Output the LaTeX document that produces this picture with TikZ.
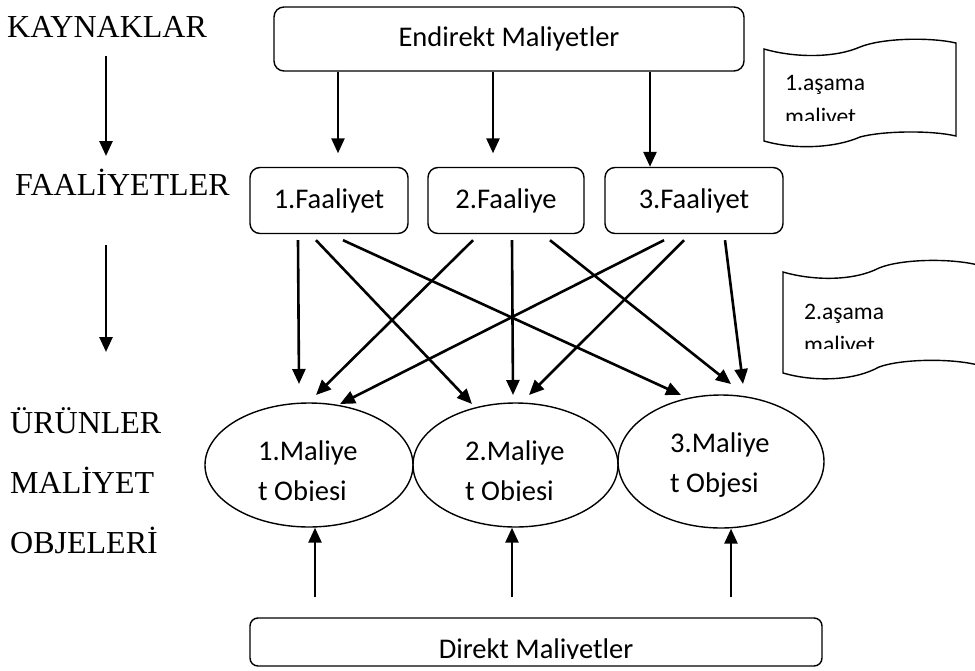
\documentclass[tikz,border=0pt]{standalone}
\usepackage{fontspec}
\usetikzlibrary{arrows.meta,shapes.geometric}
\newfontfamily\calibrifont{Carlito}
\newfontfamily\timesfont{Liberation Serif}
\begin{document}
\begin{tikzpicture}[x=1pt,y=-1pt,
  box/.style={draw, line width=1.4pt, rounded corners=10pt, inner sep=0pt,
    font=\calibrifont\fontsize{28.5}{34}\selectfont},
  oval/.style={draw, ellipse, line width=1.4pt, inner sep=0pt},
  lbl/.style={anchor=base west, inner sep=0pt, font=\timesfont\fontsize{32}{38}\selectfont},
  txt/.style={anchor=base west, inner sep=0pt, font=\calibrifont\fontsize{28.5}{34}\selectfont},
  tapetxt/.style={anchor=base west, inner sep=0pt, font=\calibrifont\fontsize{23.6}{28}\selectfont},
  tape/.style={draw, line width=1.4pt, fill=white},
  arr/.style={line width=2.6pt, -{Triangle[length=15pt,width=13pt]}}
]
\fill[white] (0,0) rectangle (975,670);
\useasboundingbox (0,0) rectangle (975,670);

% level labels on the left
\node[lbl] (kay) at (7,37) {KAYNAKLAR};
\node[lbl] (faa) at (15,195) {FAALİYETLER};
\node[lbl] (uru) at (10,433) {ÜRÜNLER};
\node[lbl] (mal) at (10,493) {MALİYET};
\node[lbl] (obj) at (10,553) {OBJELERİ};
\coordinate (kayS) at (106,56);
\coordinate (faaN) at (106,156);
\coordinate (faaS) at (106,245);
\coordinate (uruN) at (106,352);
\draw[arr] (kayS) -- (faaN);
\draw[arr] (faaS) -- (uruN);

% boxes
\node[box, minimum width=470pt, minimum height=64pt] (endirekt) at (509,39) {Endirekt Maliyetler};
\node[box, minimum width=158pt, minimum height=66pt] (f1) at (329,200.5) {1.Faaliyet};
\node[box, minimum width=156pt, minimum height=66pt] (f2) at (506,200.5) {2.Faaliye};
\node[box, minimum width=178pt, minimum height=66pt] (f3) at (694,200.5) {3.Faaliyet};
\node[box, minimum width=572pt, minimum height=48pt, rounded corners=8pt] (direkt) at (536,642) {};

% cost objects
\node[oval, minimum width=208pt, minimum height=124pt] (m1) at (309,465) {};
\node[oval, minimum width=205pt, minimum height=124pt] (m2) at (515.5,465) {};
\node[oval, minimum width=206pt, minimum height=133pt] (m3) at (721,461.5) {};

\node[txt] (m1a) at (258,460) {1.Maliye};
\node[txt] (m2a) at (465,460) {2.Maliye};
\node[txt] (m3a) at (670,452) {3.Maliye};
\node[txt] (m3b) at (670,492) {t Objesi};
\begin{scope}
  \clip (250,470) rectangle (620,500.2);
  \node[txt] (m1b) at (258,500) {t Objesi};
  \node[txt] (m2b) at (465,500) {t Objesi};
\end{scope}
\begin{scope}
  \clip (260,625) rectangle (820,658.2);
  \node[anchor=base, inner sep=0pt, font=\calibrifont\fontsize{28.5}{34}\selectfont] (dtxt) at (536,658) {Direkt Maliyetler};
\end{scope}

% stage notes
\draw[tape] (764,49) .. controls (795,58) and (835,58) .. (860,47)
  .. controls (882,38) and (930,37) .. (956,43) -- (956,136)
  .. controls (930,130) and (882,131) .. (860,137)
  .. controls (835,148) and (795,150) .. (764,141) -- cycle;
\node[tapetxt] (t1a) at (785,90) {1.aşama};
\begin{scope}
  \clip (770,95) rectangle (950,120);
  \node[tapetxt] (t1b) at (785,124) {maliyet};
\end{scope}
\draw[tape] (783,272) .. controls (814,281) and (854,281) .. (879,268)
  .. controls (901,259) and (950,258) .. (978,265) -- (978,365)
  .. controls (950,358) and (901,359) .. (879,367)
  .. controls (854,381) and (814,382) .. (783,373) -- cycle;
\node[tapetxt] (t2a) at (804,319) {2.aşama};
\begin{scope}
  \clip (790,325) rectangle (970,348);
  \node[tapetxt] (t2b) at (804,352) {maliyet};
\end{scope}

% indirect costs to activities
\draw[arr] ([xshift=-171pt]endirekt.south) -- ([xshift=9pt,yshift=13.5pt]f1.north);
\draw[arr] ([xshift=-16pt]endirekt.south) -- ([xshift=-13pt,yshift=13.5pt]f2.north);
\draw[arr] ([xshift=141pt]endirekt.south) -- ([xshift=-44pt]f3.north);

% activities to cost objects
\draw[arr] ([xshift=-31pt,yshift=-6pt]f1.south) -- ([xshift=-10pt,yshift=81pt]m1.center);
\draw[arr] ([xshift=-13pt,yshift=-6pt]f1.south) -- ([xshift=-43.5pt,yshift=61pt]m2.center);
\draw[arr] ([xshift=14pt,yshift=-6pt]f1.south) -- ([xshift=-40pt,yshift=66.5pt]m3.center);
\draw[arr] ([xshift=-33pt,yshift=-6pt]f2.south) -- ([xshift=7pt,yshift=70pt]m1.center);
\draw[arr] ([xshift=6pt,yshift=-6pt]f2.south) -- ([xshift=-2.5pt,yshift=70pt]m2.center);
\draw[arr] ([xshift=44pt,yshift=-6pt]f2.south) -- ([xshift=10pt,yshift=77.5pt]m3.center);
\draw[arr] ([xshift=-30pt,yshift=-6pt]f3.south) -- ([xshift=31pt,yshift=61pt]m1.center);
\draw[arr] ([xshift=-10pt,yshift=-6pt]f3.south) -- ([xshift=13.5pt,yshift=70pt]m2.center);
\draw[arr] ([xshift=31pt,yshift=-6pt]f3.south) -- ([xshift=22pt,yshift=77.5pt]m3.center);

% direct costs to cost objects
\draw[arr] ([xshift=-221pt,yshift=20pt]direkt.north) -- ([xshift=6pt]m1.south);
\draw[arr] ([xshift=-24pt,yshift=20pt]direkt.north) -- ([xshift=-3.5pt]m2.south);
\draw[arr] ([xshift=195pt,yshift=20pt]direkt.north) -- ([xshift=10pt]m3.south);
\end{tikzpicture}
\end{document}
